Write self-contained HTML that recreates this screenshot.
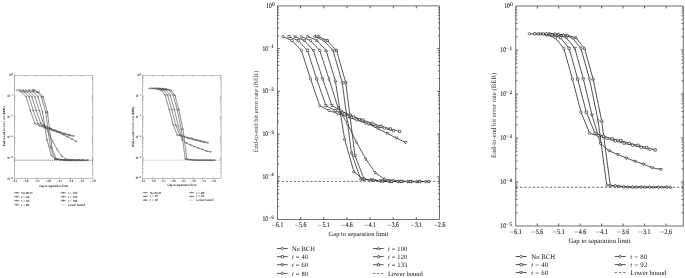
<!DOCTYPE html>
<html><head><meta charset="utf-8"><style>
html,body{margin:0;padding:0;background:#fff;}
svg{display:block;will-change:transform;}
</style></head><body>
<svg width="685" height="278" viewBox="0 0 685 278" font-family='"Liberation Serif", serif' text-rendering="geometricPrecision">
<defs><filter id="bl" x="-5%" y="-5%" width="110%" height="110%"><feGaussianBlur stdDeviation="0.35"/></filter></defs>
<rect width="685" height="278" fill="#fff"/>
<g filter="url(#bl)" stroke="#333" stroke-width="0.2"><g transform="matrix(0.4845 0 0 0.4845 -120.05 72.34)"><path d="M277.5 35.76h1.5M439.5 35.76h-1.5M277.5 28.24h1.5M439.5 28.24h-1.5M277.5 22.9h1.5M439.5 22.9h-1.5M277.5 18.76h1.5M439.5 18.76h-1.5M277.5 15.38h1.5M439.5 15.38h-1.5M277.5 12.52h1.5M439.5 12.52h-1.5M277.5 10.04h1.5M439.5 10.04h-1.5M277.5 7.85h1.5M439.5 7.85h-1.5M277.5 78.48h1.5M439.5 78.48h-1.5M277.5 70.96h1.5M439.5 70.96h-1.5M277.5 65.62h1.5M439.5 65.62h-1.5M277.5 61.48h1.5M439.5 61.48h-1.5M277.5 58.1h1.5M439.5 58.1h-1.5M277.5 55.24h1.5M439.5 55.24h-1.5M277.5 52.76h1.5M439.5 52.76h-1.5M277.5 50.57h1.5M439.5 50.57h-1.5M277.5 121.2h1.5M439.5 121.2h-1.5M277.5 113.68h1.5M439.5 113.68h-1.5M277.5 108.34h1.5M439.5 108.34h-1.5M277.5 104.2h1.5M439.5 104.2h-1.5M277.5 100.82h1.5M439.5 100.82h-1.5M277.5 97.96h1.5M439.5 97.96h-1.5M277.5 95.48h1.5M439.5 95.48h-1.5M277.5 93.29h1.5M439.5 93.29h-1.5M277.5 163.92h1.5M439.5 163.92h-1.5M277.5 156.4h1.5M439.5 156.4h-1.5M277.5 151.06h1.5M439.5 151.06h-1.5M277.5 146.92h1.5M439.5 146.92h-1.5M277.5 143.54h1.5M439.5 143.54h-1.5M277.5 140.68h1.5M439.5 140.68h-1.5M277.5 138.2h1.5M439.5 138.2h-1.5M277.5 136.01h1.5M439.5 136.01h-1.5M277.5 206.64h1.5M439.5 206.64h-1.5M277.5 199.12h1.5M439.5 199.12h-1.5M277.5 193.78h1.5M439.5 193.78h-1.5M277.5 189.64h1.5M439.5 189.64h-1.5M277.5 186.26h1.5M439.5 186.26h-1.5M277.5 183.4h1.5M439.5 183.4h-1.5M277.5 180.92h1.5M439.5 180.92h-1.5M277.5 178.73h1.5M439.5 178.73h-1.5M277.5 48.62h2.4M439.5 48.62h-2.4M277.5 91.34h2.4M439.5 91.34h-2.4M277.5 134.06h2.4M439.5 134.06h-2.4M277.5 176.78h2.4M439.5 176.78h-2.4M300.64 219.5v-2.4M300.64 5.9v2.4M323.79 219.5v-2.4M323.79 5.9v2.4M346.93 219.5v-2.4M346.93 5.9v2.4M370.07 219.5v-2.4M370.07 5.9v2.4M393.21 219.5v-2.4M393.21 5.9v2.4M416.36 219.5v-2.4M416.36 5.9v2.4" stroke="#222" stroke-width="0.7" fill="none"/>
<rect x="277.5" y="5.9" width="162" height="213.6" fill="none" stroke="#555" stroke-width="0.75"/>
<path d="M277.5 181.4H439.5" stroke="#222" stroke-width="1.2" stroke-dasharray="2.3 1.8" fill="none"/>
<path d="M282.9 36.7 L292.12 40.6 L301.34 50.3 L310.56 78.9 L319.78 105.8 L329 110.5 L338.22 113.8 L347.44 117 L356.66 120 L365.88 123.2 L375.1 126.1 L384.32 128.3 L393.54 130.8" stroke="#222" stroke-width="1.05" fill="none"/>
<path d="M289 36.7 L298.22 40.6 L307.44 50.3 L316.66 78.9 L325.88 105.6 L335.1 110.5 L344.32 113.8 L353.54 117 L362.76 120 L371.98 123.2 L381.2 126.1 L390.42 128.9 L399.64 131.4" stroke="#222" stroke-width="1.05" fill="none"/>
<path d="M295 36.7 L304.22 40.6 L313.44 50.4 L322.66 78.9 L331.88 105.6 L341.1 111 L350.32 115 L359.54 119.5 L368.76 124 L377.98 128.6 L387.2 133.3 L396.42 138 L405.64 142.5" stroke="#222" stroke-width="1.05" fill="none"/>
<path d="M301.3 36.7 L310.52 40.6 L319.74 50.4 L328.96 78.9 L338.18 108 L347.4 123.5 L356.62 142.5 L365.84 159 L375.06 172.6 L384.28 179 L393.5 180.5 L402.72 181.3 L411.94 181.5" stroke="#222" stroke-width="1.05" fill="none"/>
<path d="M307.7 36.4 L316.92 40.5 L326.14 50.5 L335.36 81 L344.58 139 L353.8 171.5 L363.02 179.16 L372.24 180.02 L381.46 180.93 L390.68 181.5 L399.9 181.52 L409.12 181.54 L418.34 181.56" stroke="#222" stroke-width="1.05" fill="none"/>
<path d="M314.6 36.4 L323.82 40.6 L333.04 50.5 L342.26 82.6 L351.48 153.1 L360.7 178.99 L369.92 179.79 L379.14 180.71 L388.36 181.39 L397.58 181.52 L406.8 181.53 L416.02 181.55 L425.24 181.57" stroke="#222" stroke-width="1.05" fill="none"/>
<path d="M318.1 36.4 L327.32 40.6 L336.54 50.5 L345.76 82.6 L354.98 155.7 L364.2 179.24 L373.42 180.14 L382.64 181.01 L391.86 181.5 L401.08 181.52 L410.3 181.54 L419.52 181.56 L428.74 181.58" stroke="#222" stroke-width="1.05" fill="none"/>
<circle cx="282.9" cy="36.7" r="1.2" fill="#fff" stroke="#222" stroke-width="0.8370000000000001"/>
<circle cx="292.12" cy="40.6" r="1.2" fill="#fff" stroke="#222" stroke-width="0.8370000000000001"/>
<circle cx="301.34" cy="50.3" r="1.2" fill="#fff" stroke="#222" stroke-width="0.8370000000000001"/>
<circle cx="310.56" cy="78.9" r="1.2" fill="#fff" stroke="#222" stroke-width="0.8370000000000001"/>
<circle cx="319.78" cy="105.8" r="1.2" fill="#fff" stroke="#222" stroke-width="0.8370000000000001"/>
<circle cx="329" cy="110.5" r="1.2" fill="#fff" stroke="#222" stroke-width="0.8370000000000001"/>
<circle cx="338.22" cy="113.8" r="1.2" fill="#fff" stroke="#222" stroke-width="0.8370000000000001"/>
<circle cx="347.44" cy="117" r="1.2" fill="#fff" stroke="#222" stroke-width="0.8370000000000001"/>
<circle cx="356.66" cy="120" r="1.2" fill="#fff" stroke="#222" stroke-width="0.8370000000000001"/>
<circle cx="365.88" cy="123.2" r="1.2" fill="#fff" stroke="#222" stroke-width="0.8370000000000001"/>
<circle cx="375.1" cy="126.1" r="1.2" fill="#fff" stroke="#222" stroke-width="0.8370000000000001"/>
<circle cx="384.32" cy="128.3" r="1.2" fill="#fff" stroke="#222" stroke-width="0.8370000000000001"/>
<circle cx="393.54" cy="130.8" r="1.2" fill="#fff" stroke="#222" stroke-width="0.8370000000000001"/>
<polygon points="287.86,35.56 290.14,35.56 290.14,37.84 287.86,37.84" fill="#fff" stroke="#222" stroke-width="0.8370000000000001"/>
<polygon points="297.08,39.46 299.36,39.46 299.36,41.74 297.08,41.74" fill="#fff" stroke="#222" stroke-width="0.8370000000000001"/>
<polygon points="306.3,49.16 308.58,49.16 308.58,51.44 306.3,51.44" fill="#fff" stroke="#222" stroke-width="0.8370000000000001"/>
<polygon points="315.52,77.76 317.8,77.76 317.8,80.04 315.52,80.04" fill="#fff" stroke="#222" stroke-width="0.8370000000000001"/>
<polygon points="324.74,104.46 327.02,104.46 327.02,106.74 324.74,106.74" fill="#fff" stroke="#222" stroke-width="0.8370000000000001"/>
<polygon points="333.96,109.36 336.24,109.36 336.24,111.64 333.96,111.64" fill="#fff" stroke="#222" stroke-width="0.8370000000000001"/>
<polygon points="343.18,112.66 345.46,112.66 345.46,114.94 343.18,114.94" fill="#fff" stroke="#222" stroke-width="0.8370000000000001"/>
<polygon points="352.4,115.86 354.68,115.86 354.68,118.14 352.4,118.14" fill="#fff" stroke="#222" stroke-width="0.8370000000000001"/>
<polygon points="361.62,118.86 363.9,118.86 363.9,121.14 361.62,121.14" fill="#fff" stroke="#222" stroke-width="0.8370000000000001"/>
<polygon points="370.84,122.06 373.12,122.06 373.12,124.34 370.84,124.34" fill="#fff" stroke="#222" stroke-width="0.8370000000000001"/>
<polygon points="380.06,124.96 382.34,124.96 382.34,127.24 380.06,127.24" fill="#fff" stroke="#222" stroke-width="0.8370000000000001"/>
<polygon points="389.28,127.76 391.56,127.76 391.56,130.04 389.28,130.04" fill="#fff" stroke="#222" stroke-width="0.8370000000000001"/>
<polygon points="398.5,130.26 400.78,130.26 400.78,132.54 398.5,132.54" fill="#fff" stroke="#222" stroke-width="0.8370000000000001"/>
<polygon points="293.5,35.8 296.5,35.8 295,38.12" fill="#fff" stroke="#222" stroke-width="0.8370000000000001"/>
<polygon points="302.72,39.7 305.72,39.7 304.22,42.02" fill="#fff" stroke="#222" stroke-width="0.8370000000000001"/>
<polygon points="311.94,49.5 314.94,49.5 313.44,51.82" fill="#fff" stroke="#222" stroke-width="0.8370000000000001"/>
<polygon points="321.16,78 324.16,78 322.66,80.33" fill="#fff" stroke="#222" stroke-width="0.8370000000000001"/>
<polygon points="330.38,104.7 333.38,104.7 331.88,107.02" fill="#fff" stroke="#222" stroke-width="0.8370000000000001"/>
<polygon points="339.6,110.1 342.6,110.1 341.1,112.42" fill="#fff" stroke="#222" stroke-width="0.8370000000000001"/>
<polygon points="348.82,114.1 351.82,114.1 350.32,116.42" fill="#fff" stroke="#222" stroke-width="0.8370000000000001"/>
<polygon points="358.04,118.6 361.04,118.6 359.54,120.92" fill="#fff" stroke="#222" stroke-width="0.8370000000000001"/>
<polygon points="367.26,123.1 370.26,123.1 368.76,125.42" fill="#fff" stroke="#222" stroke-width="0.8370000000000001"/>
<polygon points="376.48,127.7 379.48,127.7 377.98,130.03" fill="#fff" stroke="#222" stroke-width="0.8370000000000001"/>
<polygon points="385.7,132.4 388.7,132.4 387.2,134.73" fill="#fff" stroke="#222" stroke-width="0.8370000000000001"/>
<polygon points="394.92,137.1 397.92,137.1 396.42,139.43" fill="#fff" stroke="#222" stroke-width="0.8370000000000001"/>
<polygon points="404.14,141.6 407.14,141.6 405.64,143.93" fill="#fff" stroke="#222" stroke-width="0.8370000000000001"/>
<polygon points="301.3,35.08 302.35,36.7 301.3,38.32 300.25,36.7" fill="#fff" stroke="#222" stroke-width="0.8370000000000001"/>
<polygon points="310.52,38.98 311.57,40.6 310.52,42.22 309.47,40.6" fill="#fff" stroke="#222" stroke-width="0.8370000000000001"/>
<polygon points="319.74,48.78 320.79,50.4 319.74,52.02 318.69,50.4" fill="#fff" stroke="#222" stroke-width="0.8370000000000001"/>
<polygon points="328.96,77.28 330.01,78.9 328.96,80.52 327.91,78.9" fill="#fff" stroke="#222" stroke-width="0.8370000000000001"/>
<polygon points="338.18,106.38 339.23,108 338.18,109.62 337.13,108" fill="#fff" stroke="#222" stroke-width="0.8370000000000001"/>
<polygon points="347.4,121.88 348.45,123.5 347.4,125.12 346.35,123.5" fill="#fff" stroke="#222" stroke-width="0.8370000000000001"/>
<polygon points="356.62,140.88 357.67,142.5 356.62,144.12 355.57,142.5" fill="#fff" stroke="#222" stroke-width="0.8370000000000001"/>
<polygon points="365.84,157.38 366.89,159 365.84,160.62 364.79,159" fill="#fff" stroke="#222" stroke-width="0.8370000000000001"/>
<polygon points="375.06,170.98 376.11,172.6 375.06,174.22 374.01,172.6" fill="#fff" stroke="#222" stroke-width="0.8370000000000001"/>
<polygon points="384.28,177.38 385.33,179 384.28,180.62 383.23,179" fill="#fff" stroke="#222" stroke-width="0.8370000000000001"/>
<polygon points="393.5,178.88 394.55,180.5 393.5,182.12 392.45,180.5" fill="#fff" stroke="#222" stroke-width="0.8370000000000001"/>
<polygon points="402.72,179.68 403.77,181.3 402.72,182.92 401.67,181.3" fill="#fff" stroke="#222" stroke-width="0.8370000000000001"/>
<polygon points="411.94,179.88 412.99,181.5 411.94,183.12 410.89,181.5" fill="#fff" stroke="#222" stroke-width="0.8370000000000001"/>
<polygon points="306.2,37.3 309.2,37.3 307.7,34.98" fill="#fff" stroke="#222" stroke-width="0.8370000000000001"/>
<polygon points="315.42,41.4 318.42,41.4 316.92,39.08" fill="#fff" stroke="#222" stroke-width="0.8370000000000001"/>
<polygon points="324.64,51.4 327.64,51.4 326.14,49.08" fill="#fff" stroke="#222" stroke-width="0.8370000000000001"/>
<polygon points="333.86,81.9 336.86,81.9 335.36,79.58" fill="#fff" stroke="#222" stroke-width="0.8370000000000001"/>
<polygon points="343.08,139.9 346.08,139.9 344.58,137.57" fill="#fff" stroke="#222" stroke-width="0.8370000000000001"/>
<polygon points="352.3,172.4 355.3,172.4 353.8,170.07" fill="#fff" stroke="#222" stroke-width="0.8370000000000001"/>
<polygon points="361.52,180.06 364.52,180.06 363.02,177.73" fill="#fff" stroke="#222" stroke-width="0.8370000000000001"/>
<polygon points="370.74,180.92 373.74,180.92 372.24,178.6" fill="#fff" stroke="#222" stroke-width="0.8370000000000001"/>
<polygon points="379.96,181.83 382.96,181.83 381.46,179.51" fill="#fff" stroke="#222" stroke-width="0.8370000000000001"/>
<polygon points="389.18,182.4 392.18,182.4 390.68,180.08" fill="#fff" stroke="#222" stroke-width="0.8370000000000001"/>
<polygon points="398.4,182.42 401.4,182.42 399.9,180.09" fill="#fff" stroke="#222" stroke-width="0.8370000000000001"/>
<polygon points="407.62,182.44 410.62,182.44 409.12,180.11" fill="#fff" stroke="#222" stroke-width="0.8370000000000001"/>
<polygon points="416.84,182.46 419.84,182.46 418.34,180.13" fill="#fff" stroke="#222" stroke-width="0.8370000000000001"/>
<polygon points="315.5,34.9 315.5,37.9 313.18,36.4" fill="#fff" stroke="#222" stroke-width="0.8370000000000001"/>
<polygon points="324.72,39.1 324.72,42.1 322.4,40.6" fill="#fff" stroke="#222" stroke-width="0.8370000000000001"/>
<polygon points="333.94,49 333.94,52 331.62,50.5" fill="#fff" stroke="#222" stroke-width="0.8370000000000001"/>
<polygon points="343.16,81.1 343.16,84.1 340.84,82.6" fill="#fff" stroke="#222" stroke-width="0.8370000000000001"/>
<polygon points="352.38,151.6 352.38,154.6 350.06,153.1" fill="#fff" stroke="#222" stroke-width="0.8370000000000001"/>
<polygon points="361.6,177.49 361.6,180.49 359.28,178.99" fill="#fff" stroke="#222" stroke-width="0.8370000000000001"/>
<polygon points="370.82,178.29 370.82,181.29 368.5,179.79" fill="#fff" stroke="#222" stroke-width="0.8370000000000001"/>
<polygon points="380.04,179.21 380.04,182.21 377.72,180.71" fill="#fff" stroke="#222" stroke-width="0.8370000000000001"/>
<polygon points="389.26,179.89 389.26,182.89 386.94,181.39" fill="#fff" stroke="#222" stroke-width="0.8370000000000001"/>
<polygon points="398.48,180.02 398.48,183.02 396.16,181.52" fill="#fff" stroke="#222" stroke-width="0.8370000000000001"/>
<polygon points="407.7,180.03 407.7,183.03 405.38,181.53" fill="#fff" stroke="#222" stroke-width="0.8370000000000001"/>
<polygon points="416.92,180.05 416.92,183.05 414.6,181.55" fill="#fff" stroke="#222" stroke-width="0.8370000000000001"/>
<polygon points="426.14,180.07 426.14,183.07 423.81,181.57" fill="#fff" stroke="#222" stroke-width="0.8370000000000001"/>
<polygon points="318.1,34.66 318.56,35.77 319.75,35.86 318.84,36.64 319.12,37.81 318.1,37.18 317.08,37.81 317.36,36.64 316.45,35.86 317.64,35.77" fill="#fff" stroke="#222" stroke-width="0.8370000000000001"/>
<polygon points="327.32,38.86 327.78,39.97 328.97,40.06 328.06,40.84 328.34,42.01 327.32,41.38 326.3,42.01 326.58,40.84 325.67,40.06 326.86,39.97" fill="#fff" stroke="#222" stroke-width="0.8370000000000001"/>
<polygon points="336.54,48.76 337,49.87 338.19,49.96 337.28,50.74 337.56,51.91 336.54,51.28 335.52,51.91 335.8,50.74 334.89,49.96 336.08,49.87" fill="#fff" stroke="#222" stroke-width="0.8370000000000001"/>
<polygon points="345.76,80.86 346.22,81.97 347.41,82.06 346.5,82.84 346.78,84.01 345.76,83.38 344.74,84.01 345.02,82.84 344.11,82.06 345.3,81.97" fill="#fff" stroke="#222" stroke-width="0.8370000000000001"/>
<polygon points="354.98,153.96 355.44,155.07 356.63,155.16 355.72,155.94 356,157.11 354.98,156.48 353.96,157.11 354.24,155.94 353.33,155.16 354.52,155.07" fill="#fff" stroke="#222" stroke-width="0.8370000000000001"/>
<polygon points="364.2,177.5 364.66,178.61 365.85,178.71 364.94,179.48 365.22,180.65 364.2,180.03 363.18,180.65 363.46,179.48 362.55,178.71 363.74,178.61" fill="#fff" stroke="#222" stroke-width="0.8370000000000001"/>
<polygon points="373.42,178.4 373.88,179.51 375.07,179.6 374.16,180.38 374.44,181.55 373.42,180.92 372.4,181.55 372.68,180.38 371.77,179.6 372.96,179.51" fill="#fff" stroke="#222" stroke-width="0.8370000000000001"/>
<polygon points="382.64,179.27 383.1,180.38 384.29,180.47 383.38,181.25 383.66,182.42 382.64,181.79 381.62,182.42 381.9,181.25 380.99,180.47 382.18,180.38" fill="#fff" stroke="#222" stroke-width="0.8370000000000001"/>
<polygon points="391.86,179.76 392.32,180.87 393.51,180.97 392.6,181.75 392.88,182.91 391.86,182.29 390.84,182.91 391.12,181.75 390.21,180.97 391.4,180.87" fill="#fff" stroke="#222" stroke-width="0.8370000000000001"/>
<polygon points="401.08,179.78 401.54,180.89 402.73,180.98 401.82,181.76 402.1,182.93 401.08,182.31 400.06,182.93 400.34,181.76 399.43,180.98 400.62,180.89" fill="#fff" stroke="#222" stroke-width="0.8370000000000001"/>
<polygon points="410.3,179.8 410.76,180.91 411.95,181 411.04,181.78 411.32,182.95 410.3,182.32 409.28,182.95 409.56,181.78 408.65,181 409.84,180.91" fill="#fff" stroke="#222" stroke-width="0.8370000000000001"/>
<polygon points="419.52,179.82 419.98,180.93 421.17,181.02 420.26,181.8 420.54,182.97 419.52,182.34 418.5,182.97 418.78,181.8 417.87,181.02 419.06,180.93" fill="#fff" stroke="#222" stroke-width="0.8370000000000001"/>
<polygon points="428.74,179.84 429.2,180.94 430.39,181.04 429.48,181.82 429.76,182.99 428.74,182.36 427.72,182.99 428,181.82 427.09,181.04 428.28,180.94" fill="#fff" stroke="#222" stroke-width="0.8370000000000001"/>
<g font-size="7" fill="#333" stroke="#333" stroke-width="0.2"><path d="M271.7 225.35h3.9" stroke="#555" stroke-width="0.45"/><text x="276.1" y="227.1" textLength="7.2" lengthAdjust="spacingAndGlyphs">6.1</text><path d="M294.84 225.35h3.9" stroke="#555" stroke-width="0.45"/><text x="299.24" y="227.1" textLength="7.2" lengthAdjust="spacingAndGlyphs">5.6</text><path d="M317.99 225.35h3.9" stroke="#555" stroke-width="0.45"/><text x="322.39" y="227.1" textLength="7.2" lengthAdjust="spacingAndGlyphs">5.1</text><path d="M341.13 225.35h3.9" stroke="#555" stroke-width="0.45"/><text x="345.53" y="227.1" textLength="7.2" lengthAdjust="spacingAndGlyphs">4.6</text><path d="M364.27 225.35h3.9" stroke="#555" stroke-width="0.45"/><text x="368.67" y="227.1" textLength="7.2" lengthAdjust="spacingAndGlyphs">4.1</text><path d="M387.41 225.35h3.9" stroke="#555" stroke-width="0.45"/><text x="391.81" y="227.1" textLength="7.2" lengthAdjust="spacingAndGlyphs">3.6</text><path d="M410.56 225.35h3.9" stroke="#555" stroke-width="0.45"/><text x="414.96" y="227.1" textLength="7.2" lengthAdjust="spacingAndGlyphs">3.1</text><path d="M433.7 225.35h3.9" stroke="#555" stroke-width="0.45"/><text x="438.1" y="227.1" textLength="7.2" lengthAdjust="spacingAndGlyphs">2.6</text><text x="271.8" y="7.9" text-anchor="end" textLength="5.6" lengthAdjust="spacingAndGlyphs">10</text><text x="271.9" y="5.5" font-size="5.46">0</text><text x="268.1" y="50.52" text-anchor="end" textLength="5.6" lengthAdjust="spacingAndGlyphs">10</text><path d="M268.3 46.87h2.8" stroke="#555" stroke-width="0.4"/><text x="271.3" y="48.32" font-size="5.04">1</text><text x="268.1" y="93.24" text-anchor="end" textLength="5.6" lengthAdjust="spacingAndGlyphs">10</text><path d="M268.3 89.59h2.8" stroke="#555" stroke-width="0.4"/><text x="271.3" y="91.04" font-size="5.04">2</text><text x="268.1" y="135.96" text-anchor="end" textLength="5.6" lengthAdjust="spacingAndGlyphs">10</text><path d="M268.3 132.31h2.8" stroke="#555" stroke-width="0.4"/><text x="271.3" y="133.76" font-size="5.04">3</text><text x="268.1" y="178.68" text-anchor="end" textLength="5.6" lengthAdjust="spacingAndGlyphs">10</text><path d="M268.3 175.03h2.8" stroke="#555" stroke-width="0.4"/><text x="271.3" y="176.48" font-size="5.04">4</text><text x="268.1" y="221.4" text-anchor="end" textLength="5.6" lengthAdjust="spacingAndGlyphs">10</text><path d="M268.3 217.75h2.8" stroke="#555" stroke-width="0.4"/><text x="271.3" y="219.2" font-size="5.04">5</text></g>
<text x="358.5" y="235.7" text-anchor="middle" font-size="6.5" fill="#333">Gap to separation limit</text>
<text transform="translate(258.3 111.6) rotate(-90)" text-anchor="middle" font-size="6.5" fill="#555" stroke="#333" stroke-width="0.15">End-to-end bit error rate (BER)</text>
<path d="M277 248.5h10.7" stroke="#222" stroke-width="1.05" fill="none"/>
<circle cx="282.35" cy="248.5" r="1.2" fill="#fff" stroke="#222" stroke-width="0.81"/>
<text x="291.9" y="250.65" font-size="6.5" fill="#333">No BCH</text>
<path d="M277 256.6h10.7" stroke="#222" stroke-width="1.05" fill="none"/>
<polygon points="281.21,255.46 283.49,255.46 283.49,257.74 281.21,257.74" fill="#fff" stroke="#222" stroke-width="0.81"/>
<text x="291.9" y="258.75" font-size="6.5" fill="#333" textLength="16.4" lengthAdjust="spacing"><tspan font-style="italic">t</tspan> = 40</text>
<path d="M277 264.7h10.7" stroke="#222" stroke-width="1.05" fill="none"/>
<polygon points="280.85,263.8 283.85,263.8 282.35,266.12" fill="#fff" stroke="#222" stroke-width="0.81"/>
<text x="291.9" y="266.84" font-size="6.5" fill="#333" textLength="16.4" lengthAdjust="spacing"><tspan font-style="italic">t</tspan> = 60</text>
<path d="M277 273.4h10.7" stroke="#222" stroke-width="1.05" fill="none"/>
<polygon points="282.35,271.78 283.4,273.4 282.35,275.02 281.3,273.4" fill="#fff" stroke="#222" stroke-width="0.81"/>
<text x="291.9" y="275.54" font-size="6.5" fill="#333" textLength="16.4" lengthAdjust="spacing"><tspan font-style="italic">t</tspan> = 80</text>
<path d="M373 248.5h10.7" stroke="#222" stroke-width="1.05" fill="none"/>
<polygon points="376.85,249.4 379.85,249.4 378.35,247.07" fill="#fff" stroke="#222" stroke-width="0.81"/>
<text x="387.9" y="250.65" font-size="6.5" fill="#333" textLength="19.4" lengthAdjust="spacing"><tspan font-style="italic">t</tspan> = 100</text>
<path d="M373 256.6h10.7" stroke="#222" stroke-width="1.05" fill="none"/>
<polygon points="379.25,255.1 379.25,258.1 376.93,256.6" fill="#fff" stroke="#222" stroke-width="0.81"/>
<text x="387.9" y="258.75" font-size="6.5" fill="#333" textLength="19.4" lengthAdjust="spacing"><tspan font-style="italic">t</tspan> = 120</text>
<path d="M373 264.7h10.7" stroke="#222" stroke-width="1.05" fill="none"/>
<polygon points="378.35,262.96 378.81,264.07 380,264.16 379.09,264.94 379.37,266.11 378.35,265.48 377.33,266.11 377.61,264.94 376.7,264.16 377.89,264.07" fill="#fff" stroke="#222" stroke-width="0.81"/>
<text x="387.9" y="266.84" font-size="6.5" fill="#333" textLength="19.4" lengthAdjust="spacing"><tspan font-style="italic">t</tspan> = 133</text>
<path d="M373 273.4h10.7" stroke="#444" stroke-width="0.75" stroke-dasharray="2.3 1.8" fill="none"/>
<text x="387.9" y="275.54" font-size="6.5" fill="#333">Lower bound</text></g></g>
<g filter="url(#bl)" stroke="#333" stroke-width="0.2"><g transform="matrix(0.468 0 0 0.468 -98.69 72.59)"><path d="M515.8 36.75h1.55M683.2 36.75h-1.55M515.8 29.01h1.55M683.2 29.01h-1.55M515.8 23.51h1.55M683.2 23.51h-1.55M515.8 19.25h1.55M683.2 19.25h-1.55M515.8 15.76h1.55M683.2 15.76h-1.55M515.8 12.82h1.55M683.2 12.82h-1.55M515.8 10.26h1.55M683.2 10.26h-1.55M515.8 8.01h1.55M683.2 8.01h-1.55M515.8 80.75h1.55M683.2 80.75h-1.55M515.8 73.01h1.55M683.2 73.01h-1.55M515.8 67.51h1.55M683.2 67.51h-1.55M515.8 63.25h1.55M683.2 63.25h-1.55M515.8 59.76h1.55M683.2 59.76h-1.55M515.8 56.82h1.55M683.2 56.82h-1.55M515.8 54.26h1.55M683.2 54.26h-1.55M515.8 52.01h1.55M683.2 52.01h-1.55M515.8 124.75h1.55M683.2 124.75h-1.55M515.8 117.01h1.55M683.2 117.01h-1.55M515.8 111.51h1.55M683.2 111.51h-1.55M515.8 107.25h1.55M683.2 107.25h-1.55M515.8 103.76h1.55M683.2 103.76h-1.55M515.8 100.82h1.55M683.2 100.82h-1.55M515.8 98.26h1.55M683.2 98.26h-1.55M515.8 96.01h1.55M683.2 96.01h-1.55M515.8 168.75h1.55M683.2 168.75h-1.55M515.8 161.01h1.55M683.2 161.01h-1.55M515.8 155.51h1.55M683.2 155.51h-1.55M515.8 151.25h1.55M683.2 151.25h-1.55M515.8 147.76h1.55M683.2 147.76h-1.55M515.8 144.82h1.55M683.2 144.82h-1.55M515.8 142.26h1.55M683.2 142.26h-1.55M515.8 140.01h1.55M683.2 140.01h-1.55M515.8 212.75h1.55M683.2 212.75h-1.55M515.8 205.01h1.55M683.2 205.01h-1.55M515.8 199.51h1.55M683.2 199.51h-1.55M515.8 195.25h1.55M683.2 195.25h-1.55M515.8 191.76h1.55M683.2 191.76h-1.55M515.8 188.82h1.55M683.2 188.82h-1.55M515.8 186.26h1.55M683.2 186.26h-1.55M515.8 184.01h1.55M683.2 184.01h-1.55M515.8 50h2.48M683.2 50h-2.48M515.8 94h2.48M683.2 94h-2.48M515.8 138h2.48M683.2 138h-2.48M515.8 182h2.48M683.2 182h-2.48M537.26 226v-2.48M537.26 6v2.48M558.72 226v-2.48M558.72 6v2.48M580.18 226v-2.48M580.18 6v2.48M601.65 226v-2.48M601.65 6v2.48M623.11 226v-2.48M623.11 6v2.48M644.57 226v-2.48M644.57 6v2.48M666.03 226v-2.48M666.03 6v2.48" stroke="#222" stroke-width="0.72" fill="none"/>
<rect x="515.8" y="6" width="167.4" height="220" fill="none" stroke="#555" stroke-width="0.78"/>
<path d="M515.8 187.3H683.2" stroke="#777" stroke-width="0.93" stroke-dasharray="2.38 1.86" fill="none"/>
<path d="M529.4 33.8 L538 34 L546.6 35 L555.2 37.7 L563.8 48.3 L572.4 79 L581 112.1 L589.6 133.3 L598.2 135.8 L606.8 138.5 L615.4 141 L624 143.3 L632.6 145.3 L641.2 147.4 L649.8 149.4" stroke="#222" stroke-width="1.09" fill="none"/>
<path d="M534.7 33.8 L543.3 34 L551.9 35 L560.5 37.7 L569.1 48.3 L577.7 79 L586.3 112.1 L594.9 133.3 L603.5 136.2 L612.1 138.8 L620.7 140.5 L629.3 143.3 L637.9 145.3 L646.5 147.6 L655.1 149.9" stroke="#222" stroke-width="1.09" fill="none"/>
<path d="M540.4 33.8 L549 34 L557.6 35 L566.2 37.7 L574.8 48.3 L583.4 79 L592 115.1 L600.6 143.7 L609.2 150.8 L617.8 154.5 L626.4 158.1 L635 161.3 L643.6 164.2 L652.2 167.8 L660.8 169.4" stroke="#222" stroke-width="1.09" fill="none"/>
<path d="M546.5 33.8 L555.1 34.2 L563.7 35.2 L572.3 37.7 L580.9 48.3 L589.5 79 L598.1 120.9 L606.7 184.84 L615.3 185.74 L623.9 186.79 L632.5 187.1 L641.1 187.12 L649.7 187.13 L658.3 187.15 L666.9 187.16" stroke="#222" stroke-width="1.09" fill="none"/>
<path d="M550.1 33.8 L558.7 34.2 L567.3 35.2 L575.9 37.7 L584.5 48.3 L593.1 79 L601.7 120.9 L610.3 185.51 L618.9 186.19 L627.5 186.93 L636.1 187.11 L644.7 187.12 L653.3 187.14 L661.9 187.15 L670.5 187.17" stroke="#222" stroke-width="1.09" fill="none"/>
<circle cx="529.4" cy="33.8" r="1.24" fill="#fff" stroke="#222" stroke-width="0.8662949999999999"/>
<circle cx="538" cy="34" r="1.24" fill="#fff" stroke="#222" stroke-width="0.8662949999999999"/>
<circle cx="546.6" cy="35" r="1.24" fill="#fff" stroke="#222" stroke-width="0.8662949999999999"/>
<circle cx="555.2" cy="37.7" r="1.24" fill="#fff" stroke="#222" stroke-width="0.8662949999999999"/>
<circle cx="563.8" cy="48.3" r="1.24" fill="#fff" stroke="#222" stroke-width="0.8662949999999999"/>
<circle cx="572.4" cy="79" r="1.24" fill="#fff" stroke="#222" stroke-width="0.8662949999999999"/>
<circle cx="581" cy="112.1" r="1.24" fill="#fff" stroke="#222" stroke-width="0.8662949999999999"/>
<circle cx="589.6" cy="133.3" r="1.24" fill="#fff" stroke="#222" stroke-width="0.8662949999999999"/>
<circle cx="598.2" cy="135.8" r="1.24" fill="#fff" stroke="#222" stroke-width="0.8662949999999999"/>
<circle cx="606.8" cy="138.5" r="1.24" fill="#fff" stroke="#222" stroke-width="0.8662949999999999"/>
<circle cx="615.4" cy="141" r="1.24" fill="#fff" stroke="#222" stroke-width="0.8662949999999999"/>
<circle cx="624" cy="143.3" r="1.24" fill="#fff" stroke="#222" stroke-width="0.8662949999999999"/>
<circle cx="632.6" cy="145.3" r="1.24" fill="#fff" stroke="#222" stroke-width="0.8662949999999999"/>
<circle cx="641.2" cy="147.4" r="1.24" fill="#fff" stroke="#222" stroke-width="0.8662949999999999"/>
<circle cx="649.8" cy="149.4" r="1.24" fill="#fff" stroke="#222" stroke-width="0.8662949999999999"/>
<polygon points="533.52,32.62 535.88,32.62 535.88,34.98 533.52,34.98" fill="#fff" stroke="#222" stroke-width="0.8662949999999999"/>
<polygon points="542.12,32.82 544.48,32.82 544.48,35.18 542.12,35.18" fill="#fff" stroke="#222" stroke-width="0.8662949999999999"/>
<polygon points="550.72,33.82 553.08,33.82 553.08,36.18 550.72,36.18" fill="#fff" stroke="#222" stroke-width="0.8662949999999999"/>
<polygon points="559.32,36.52 561.68,36.52 561.68,38.88 559.32,38.88" fill="#fff" stroke="#222" stroke-width="0.8662949999999999"/>
<polygon points="567.92,47.12 570.28,47.12 570.28,49.48 567.92,49.48" fill="#fff" stroke="#222" stroke-width="0.8662949999999999"/>
<polygon points="576.52,77.82 578.88,77.82 578.88,80.18 576.52,80.18" fill="#fff" stroke="#222" stroke-width="0.8662949999999999"/>
<polygon points="585.12,110.92 587.48,110.92 587.48,113.28 585.12,113.28" fill="#fff" stroke="#222" stroke-width="0.8662949999999999"/>
<polygon points="593.72,132.12 596.08,132.12 596.08,134.48 593.72,134.48" fill="#fff" stroke="#222" stroke-width="0.8662949999999999"/>
<polygon points="602.32,135.02 604.68,135.02 604.68,137.38 602.32,137.38" fill="#fff" stroke="#222" stroke-width="0.8662949999999999"/>
<polygon points="610.92,137.62 613.28,137.62 613.28,139.98 610.92,139.98" fill="#fff" stroke="#222" stroke-width="0.8662949999999999"/>
<polygon points="619.52,139.32 621.88,139.32 621.88,141.68 619.52,141.68" fill="#fff" stroke="#222" stroke-width="0.8662949999999999"/>
<polygon points="628.12,142.12 630.48,142.12 630.48,144.48 628.12,144.48" fill="#fff" stroke="#222" stroke-width="0.8662949999999999"/>
<polygon points="636.72,144.12 639.08,144.12 639.08,146.48 636.72,146.48" fill="#fff" stroke="#222" stroke-width="0.8662949999999999"/>
<polygon points="645.32,146.42 647.68,146.42 647.68,148.78 645.32,148.78" fill="#fff" stroke="#222" stroke-width="0.8662949999999999"/>
<polygon points="653.92,148.72 656.28,148.72 656.28,151.08 653.92,151.08" fill="#fff" stroke="#222" stroke-width="0.8662949999999999"/>
<polygon points="538.85,32.87 541.95,32.87 540.4,35.27" fill="#fff" stroke="#222" stroke-width="0.8662949999999999"/>
<polygon points="547.45,33.07 550.55,33.07 549,35.47" fill="#fff" stroke="#222" stroke-width="0.8662949999999999"/>
<polygon points="556.05,34.07 559.15,34.07 557.6,36.47" fill="#fff" stroke="#222" stroke-width="0.8662949999999999"/>
<polygon points="564.65,36.77 567.75,36.77 566.2,39.17" fill="#fff" stroke="#222" stroke-width="0.8662949999999999"/>
<polygon points="573.25,47.37 576.35,47.37 574.8,49.77" fill="#fff" stroke="#222" stroke-width="0.8662949999999999"/>
<polygon points="581.85,78.07 584.95,78.07 583.4,80.47" fill="#fff" stroke="#222" stroke-width="0.8662949999999999"/>
<polygon points="590.45,114.17 593.55,114.17 592,116.57" fill="#fff" stroke="#222" stroke-width="0.8662949999999999"/>
<polygon points="599.05,142.77 602.15,142.77 600.6,145.17" fill="#fff" stroke="#222" stroke-width="0.8662949999999999"/>
<polygon points="607.65,149.87 610.75,149.87 609.2,152.27" fill="#fff" stroke="#222" stroke-width="0.8662949999999999"/>
<polygon points="616.25,153.57 619.35,153.57 617.8,155.97" fill="#fff" stroke="#222" stroke-width="0.8662949999999999"/>
<polygon points="624.85,157.17 627.95,157.17 626.4,159.57" fill="#fff" stroke="#222" stroke-width="0.8662949999999999"/>
<polygon points="633.45,160.37 636.55,160.37 635,162.77" fill="#fff" stroke="#222" stroke-width="0.8662949999999999"/>
<polygon points="642.05,163.27 645.15,163.27 643.6,165.67" fill="#fff" stroke="#222" stroke-width="0.8662949999999999"/>
<polygon points="650.65,166.87 653.75,166.87 652.2,169.27" fill="#fff" stroke="#222" stroke-width="0.8662949999999999"/>
<polygon points="659.25,168.47 662.35,168.47 660.8,170.87" fill="#fff" stroke="#222" stroke-width="0.8662949999999999"/>
<polygon points="546.5,32.12 547.59,33.8 546.5,35.48 545.41,33.8" fill="#fff" stroke="#222" stroke-width="0.8662949999999999"/>
<polygon points="555.1,32.52 556.19,34.2 555.1,35.88 554.01,34.2" fill="#fff" stroke="#222" stroke-width="0.8662949999999999"/>
<polygon points="563.7,33.52 564.79,35.2 563.7,36.88 562.61,35.2" fill="#fff" stroke="#222" stroke-width="0.8662949999999999"/>
<polygon points="572.3,36.02 573.39,37.7 572.3,39.38 571.21,37.7" fill="#fff" stroke="#222" stroke-width="0.8662949999999999"/>
<polygon points="580.9,46.62 581.99,48.3 580.9,49.98 579.81,48.3" fill="#fff" stroke="#222" stroke-width="0.8662949999999999"/>
<polygon points="589.5,77.32 590.59,79 589.5,80.68 588.41,79" fill="#fff" stroke="#222" stroke-width="0.8662949999999999"/>
<polygon points="598.1,119.22 599.19,120.9 598.1,122.58 597.01,120.9" fill="#fff" stroke="#222" stroke-width="0.8662949999999999"/>
<polygon points="606.7,183.16 607.79,184.84 606.7,186.52 605.61,184.84" fill="#fff" stroke="#222" stroke-width="0.8662949999999999"/>
<polygon points="615.3,184.06 616.39,185.74 615.3,187.41 614.21,185.74" fill="#fff" stroke="#222" stroke-width="0.8662949999999999"/>
<polygon points="623.9,185.11 624.99,186.79 623.9,188.46 622.81,186.79" fill="#fff" stroke="#222" stroke-width="0.8662949999999999"/>
<polygon points="632.5,185.42 633.59,187.1 632.5,188.78 631.41,187.1" fill="#fff" stroke="#222" stroke-width="0.8662949999999999"/>
<polygon points="641.1,185.44 642.19,187.12 641.1,188.79 640.01,187.12" fill="#fff" stroke="#222" stroke-width="0.8662949999999999"/>
<polygon points="649.7,185.45 650.79,187.13 649.7,188.81 648.61,187.13" fill="#fff" stroke="#222" stroke-width="0.8662949999999999"/>
<polygon points="658.3,185.47 659.39,187.15 658.3,188.82 657.21,187.15" fill="#fff" stroke="#222" stroke-width="0.8662949999999999"/>
<polygon points="666.9,185.48 667.99,187.16 666.9,188.84 665.81,187.16" fill="#fff" stroke="#222" stroke-width="0.8662949999999999"/>
<polygon points="548.55,34.73 551.65,34.73 550.1,32.33" fill="#fff" stroke="#222" stroke-width="0.8662949999999999"/>
<polygon points="557.15,35.13 560.25,35.13 558.7,32.73" fill="#fff" stroke="#222" stroke-width="0.8662949999999999"/>
<polygon points="565.75,36.13 568.85,36.13 567.3,33.73" fill="#fff" stroke="#222" stroke-width="0.8662949999999999"/>
<polygon points="574.35,38.63 577.45,38.63 575.9,36.23" fill="#fff" stroke="#222" stroke-width="0.8662949999999999"/>
<polygon points="582.95,49.23 586.05,49.23 584.5,46.83" fill="#fff" stroke="#222" stroke-width="0.8662949999999999"/>
<polygon points="591.55,79.93 594.65,79.93 593.1,77.53" fill="#fff" stroke="#222" stroke-width="0.8662949999999999"/>
<polygon points="600.15,121.83 603.25,121.83 601.7,119.43" fill="#fff" stroke="#222" stroke-width="0.8662949999999999"/>
<polygon points="608.75,186.44 611.85,186.44 610.3,184.04" fill="#fff" stroke="#222" stroke-width="0.8662949999999999"/>
<polygon points="617.35,187.12 620.45,187.12 618.9,184.71" fill="#fff" stroke="#222" stroke-width="0.8662949999999999"/>
<polygon points="625.95,187.86 629.05,187.86 627.5,185.46" fill="#fff" stroke="#222" stroke-width="0.8662949999999999"/>
<polygon points="634.55,188.04 637.65,188.04 636.1,185.63" fill="#fff" stroke="#222" stroke-width="0.8662949999999999"/>
<polygon points="643.15,188.05 646.25,188.05 644.7,185.65" fill="#fff" stroke="#222" stroke-width="0.8662949999999999"/>
<polygon points="651.75,188.07 654.85,188.07 653.3,185.66" fill="#fff" stroke="#222" stroke-width="0.8662949999999999"/>
<polygon points="660.35,188.08 663.45,188.08 661.9,185.68" fill="#fff" stroke="#222" stroke-width="0.8662949999999999"/>
<polygon points="668.95,188.1 672.05,188.1 670.5,185.69" fill="#fff" stroke="#222" stroke-width="0.8662949999999999"/>
<g font-size="7.25" fill="#333" stroke="#333" stroke-width="0.2"><path d="M509.8 231.99h4.04" stroke="#555" stroke-width="0.47"/><text x="514.35" y="233.8" textLength="7.45" lengthAdjust="spacingAndGlyphs">6.1</text><path d="M531.26 231.99h4.04" stroke="#555" stroke-width="0.47"/><text x="535.81" y="233.8" textLength="7.45" lengthAdjust="spacingAndGlyphs">5.6</text><path d="M552.72 231.99h4.04" stroke="#555" stroke-width="0.47"/><text x="557.27" y="233.8" textLength="7.45" lengthAdjust="spacingAndGlyphs">5.1</text><path d="M574.18 231.99h4.04" stroke="#555" stroke-width="0.47"/><text x="578.74" y="233.8" textLength="7.45" lengthAdjust="spacingAndGlyphs">4.6</text><path d="M595.64 231.99h4.04" stroke="#555" stroke-width="0.47"/><text x="600.2" y="233.8" textLength="7.45" lengthAdjust="spacingAndGlyphs">4.1</text><path d="M617.1 231.99h4.04" stroke="#555" stroke-width="0.47"/><text x="621.66" y="233.8" textLength="7.45" lengthAdjust="spacingAndGlyphs">3.6</text><path d="M638.57 231.99h4.04" stroke="#555" stroke-width="0.47"/><text x="643.12" y="233.8" textLength="7.45" lengthAdjust="spacingAndGlyphs">3.1</text><path d="M660.03 231.99h4.04" stroke="#555" stroke-width="0.47"/><text x="664.58" y="233.8" textLength="7.45" lengthAdjust="spacingAndGlyphs">2.6</text><text x="509.93" y="8.07" text-anchor="end" textLength="5.8" lengthAdjust="spacingAndGlyphs">10</text><text x="510.03" y="5.59" font-size="5.66">0</text><text x="506.1" y="51.97" text-anchor="end" textLength="5.8" lengthAdjust="spacingAndGlyphs">10</text><path d="M506.3 48.19h2.9" stroke="#555" stroke-width="0.41"/><text x="509.41" y="49.69" font-size="5.22">1</text><text x="506.1" y="95.97" text-anchor="end" textLength="5.8" lengthAdjust="spacingAndGlyphs">10</text><path d="M506.3 92.19h2.9" stroke="#555" stroke-width="0.41"/><text x="509.41" y="93.69" font-size="5.22">2</text><text x="506.1" y="139.97" text-anchor="end" textLength="5.8" lengthAdjust="spacingAndGlyphs">10</text><path d="M506.3 136.19h2.9" stroke="#555" stroke-width="0.41"/><text x="509.41" y="137.69" font-size="5.22">3</text><text x="506.1" y="183.97" text-anchor="end" textLength="5.8" lengthAdjust="spacingAndGlyphs">10</text><path d="M506.3 180.19h2.9" stroke="#555" stroke-width="0.41"/><text x="509.41" y="181.69" font-size="5.22">4</text><text x="506.1" y="227.97" text-anchor="end" textLength="5.8" lengthAdjust="spacingAndGlyphs">10</text><path d="M506.3 224.19h2.9" stroke="#555" stroke-width="0.41"/><text x="509.41" y="225.69" font-size="5.22">5</text></g>
<text x="599.5" y="242.9" text-anchor="middle" font-size="6.75" fill="#333">Gap to separation limit</text>
<text transform="translate(496.3 115.4) rotate(-90)" text-anchor="middle" font-size="6.75" fill="#555" stroke="#333" stroke-width="0.15">End-to-end bit error rate (BER)</text>
<path d="M515.7 256.5h11" stroke="#222" stroke-width="1.09" fill="none"/>
<circle cx="521.2" cy="256.5" r="1.24" fill="#fff" stroke="#222" stroke-width="0.8383499999999999"/>
<text x="531.3" y="258.73" font-size="6.75" fill="#333">No BCH</text>
<path d="M515.7 264.6h11" stroke="#222" stroke-width="1.09" fill="none"/>
<polygon points="520.02,263.42 522.38,263.42 522.38,265.78 520.02,265.78" fill="#fff" stroke="#222" stroke-width="0.8383499999999999"/>
<text x="531.3" y="266.83" font-size="6.75" fill="#333" textLength="16.97" lengthAdjust="spacing"><tspan font-style="italic">t</tspan> = 40</text>
<path d="M515.7 272.6h11" stroke="#222" stroke-width="1.09" fill="none"/>
<polygon points="519.65,271.67 522.75,271.67 521.2,274.07" fill="#fff" stroke="#222" stroke-width="0.8383499999999999"/>
<text x="531.3" y="274.83" font-size="6.75" fill="#333" textLength="16.97" lengthAdjust="spacing"><tspan font-style="italic">t</tspan> = 60</text>
<path d="M614.7 256.5h11" stroke="#222" stroke-width="1.09" fill="none"/>
<polygon points="620.2,254.82 621.29,256.5 620.2,258.18 619.11,256.5" fill="#fff" stroke="#222" stroke-width="0.8383499999999999"/>
<text x="630.3" y="258.73" font-size="6.75" fill="#333" textLength="16.97" lengthAdjust="spacing"><tspan font-style="italic">t</tspan> = 80</text>
<path d="M614.7 264.6h11" stroke="#222" stroke-width="1.09" fill="none"/>
<polygon points="618.65,265.53 621.75,265.53 620.2,263.13" fill="#fff" stroke="#222" stroke-width="0.8383499999999999"/>
<text x="630.3" y="266.83" font-size="6.75" fill="#333" textLength="16.97" lengthAdjust="spacing"><tspan font-style="italic">t</tspan> = 92</text>
<path d="M614.7 272.6h11" stroke="#444" stroke-width="0.78" stroke-dasharray="2.38 1.86" fill="none"/>
<text x="630.3" y="274.83" font-size="6.75" fill="#333">Lower bound</text></g></g>
<path d="M277.5 35.76h1.5M439.5 35.76h-1.5M277.5 28.24h1.5M439.5 28.24h-1.5M277.5 22.9h1.5M439.5 22.9h-1.5M277.5 18.76h1.5M439.5 18.76h-1.5M277.5 15.38h1.5M439.5 15.38h-1.5M277.5 12.52h1.5M439.5 12.52h-1.5M277.5 10.04h1.5M439.5 10.04h-1.5M277.5 7.85h1.5M439.5 7.85h-1.5M277.5 78.48h1.5M439.5 78.48h-1.5M277.5 70.96h1.5M439.5 70.96h-1.5M277.5 65.62h1.5M439.5 65.62h-1.5M277.5 61.48h1.5M439.5 61.48h-1.5M277.5 58.1h1.5M439.5 58.1h-1.5M277.5 55.24h1.5M439.5 55.24h-1.5M277.5 52.76h1.5M439.5 52.76h-1.5M277.5 50.57h1.5M439.5 50.57h-1.5M277.5 121.2h1.5M439.5 121.2h-1.5M277.5 113.68h1.5M439.5 113.68h-1.5M277.5 108.34h1.5M439.5 108.34h-1.5M277.5 104.2h1.5M439.5 104.2h-1.5M277.5 100.82h1.5M439.5 100.82h-1.5M277.5 97.96h1.5M439.5 97.96h-1.5M277.5 95.48h1.5M439.5 95.48h-1.5M277.5 93.29h1.5M439.5 93.29h-1.5M277.5 163.92h1.5M439.5 163.92h-1.5M277.5 156.4h1.5M439.5 156.4h-1.5M277.5 151.06h1.5M439.5 151.06h-1.5M277.5 146.92h1.5M439.5 146.92h-1.5M277.5 143.54h1.5M439.5 143.54h-1.5M277.5 140.68h1.5M439.5 140.68h-1.5M277.5 138.2h1.5M439.5 138.2h-1.5M277.5 136.01h1.5M439.5 136.01h-1.5M277.5 206.64h1.5M439.5 206.64h-1.5M277.5 199.12h1.5M439.5 199.12h-1.5M277.5 193.78h1.5M439.5 193.78h-1.5M277.5 189.64h1.5M439.5 189.64h-1.5M277.5 186.26h1.5M439.5 186.26h-1.5M277.5 183.4h1.5M439.5 183.4h-1.5M277.5 180.92h1.5M439.5 180.92h-1.5M277.5 178.73h1.5M439.5 178.73h-1.5M277.5 48.62h2.4M439.5 48.62h-2.4M277.5 91.34h2.4M439.5 91.34h-2.4M277.5 134.06h2.4M439.5 134.06h-2.4M277.5 176.78h2.4M439.5 176.78h-2.4M300.64 219.5v-2.4M300.64 5.9v2.4M323.79 219.5v-2.4M323.79 5.9v2.4M346.93 219.5v-2.4M346.93 5.9v2.4M370.07 219.5v-2.4M370.07 5.9v2.4M393.21 219.5v-2.4M393.21 5.9v2.4M416.36 219.5v-2.4M416.36 5.9v2.4" stroke="#222" stroke-width="0.7" fill="none"/>
<rect x="277.5" y="5.9" width="162" height="213.6" fill="none" stroke="#444" stroke-width="0.75"/>
<path d="M277.5 181.4H439.5" stroke="#444" stroke-width="0.75" stroke-dasharray="2.3 1.8" fill="none"/>
<path d="M282.9 36.7 L292.12 40.6 L301.34 50.3 L310.56 78.9 L319.78 105.8 L329 110.5 L338.22 113.8 L347.44 117 L356.66 120 L365.88 123.2 L375.1 126.1 L384.32 128.3 L393.54 130.8" stroke="#222" stroke-width="0.75" fill="none"/>
<path d="M289 36.7 L298.22 40.6 L307.44 50.3 L316.66 78.9 L325.88 105.6 L335.1 110.5 L344.32 113.8 L353.54 117 L362.76 120 L371.98 123.2 L381.2 126.1 L390.42 128.9 L399.64 131.4" stroke="#222" stroke-width="0.75" fill="none"/>
<path d="M295 36.7 L304.22 40.6 L313.44 50.4 L322.66 78.9 L331.88 105.6 L341.1 111 L350.32 115 L359.54 119.5 L368.76 124 L377.98 128.6 L387.2 133.3 L396.42 138 L405.64 142.5" stroke="#222" stroke-width="0.75" fill="none"/>
<path d="M301.3 36.7 L310.52 40.6 L319.74 50.4 L328.96 78.9 L338.18 108 L347.4 123.5 L356.62 142.5 L365.84 159 L375.06 172.6 L384.28 179 L393.5 180.5 L402.72 181.3 L411.94 181.5" stroke="#222" stroke-width="0.75" fill="none"/>
<path d="M307.7 36.4 L316.92 40.5 L326.14 50.5 L335.36 81 L344.58 139 L353.8 171.5 L363.02 179.16 L372.24 180.02 L381.46 180.93 L390.68 181.5 L399.9 181.52 L409.12 181.54 L418.34 181.56" stroke="#222" stroke-width="0.75" fill="none"/>
<path d="M314.6 36.4 L323.82 40.6 L333.04 50.5 L342.26 82.6 L351.48 153.1 L360.7 178.99 L369.92 179.79 L379.14 180.71 L388.36 181.39 L397.58 181.52 L406.8 181.53 L416.02 181.55 L425.24 181.57" stroke="#222" stroke-width="0.75" fill="none"/>
<path d="M318.1 36.4 L327.32 40.6 L336.54 50.5 L345.76 82.6 L354.98 155.7 L364.2 179.24 L373.42 180.14 L382.64 181.01 L391.86 181.5 L401.08 181.52 L410.3 181.54 L419.52 181.56 L428.74 181.58" stroke="#222" stroke-width="0.75" fill="none"/>
<circle cx="282.9" cy="36.7" r="1.2" fill="#fff" stroke="#222" stroke-width="0.62"/>
<circle cx="292.12" cy="40.6" r="1.2" fill="#fff" stroke="#222" stroke-width="0.62"/>
<circle cx="301.34" cy="50.3" r="1.2" fill="#fff" stroke="#222" stroke-width="0.62"/>
<circle cx="310.56" cy="78.9" r="1.2" fill="#fff" stroke="#222" stroke-width="0.62"/>
<circle cx="319.78" cy="105.8" r="1.2" fill="#fff" stroke="#222" stroke-width="0.62"/>
<circle cx="329" cy="110.5" r="1.2" fill="#fff" stroke="#222" stroke-width="0.62"/>
<circle cx="338.22" cy="113.8" r="1.2" fill="#fff" stroke="#222" stroke-width="0.62"/>
<circle cx="347.44" cy="117" r="1.2" fill="#fff" stroke="#222" stroke-width="0.62"/>
<circle cx="356.66" cy="120" r="1.2" fill="#fff" stroke="#222" stroke-width="0.62"/>
<circle cx="365.88" cy="123.2" r="1.2" fill="#fff" stroke="#222" stroke-width="0.62"/>
<circle cx="375.1" cy="126.1" r="1.2" fill="#fff" stroke="#222" stroke-width="0.62"/>
<circle cx="384.32" cy="128.3" r="1.2" fill="#fff" stroke="#222" stroke-width="0.62"/>
<circle cx="393.54" cy="130.8" r="1.2" fill="#fff" stroke="#222" stroke-width="0.62"/>
<polygon points="287.86,35.56 290.14,35.56 290.14,37.84 287.86,37.84" fill="#fff" stroke="#222" stroke-width="0.62"/>
<polygon points="297.08,39.46 299.36,39.46 299.36,41.74 297.08,41.74" fill="#fff" stroke="#222" stroke-width="0.62"/>
<polygon points="306.3,49.16 308.58,49.16 308.58,51.44 306.3,51.44" fill="#fff" stroke="#222" stroke-width="0.62"/>
<polygon points="315.52,77.76 317.8,77.76 317.8,80.04 315.52,80.04" fill="#fff" stroke="#222" stroke-width="0.62"/>
<polygon points="324.74,104.46 327.02,104.46 327.02,106.74 324.74,106.74" fill="#fff" stroke="#222" stroke-width="0.62"/>
<polygon points="333.96,109.36 336.24,109.36 336.24,111.64 333.96,111.64" fill="#fff" stroke="#222" stroke-width="0.62"/>
<polygon points="343.18,112.66 345.46,112.66 345.46,114.94 343.18,114.94" fill="#fff" stroke="#222" stroke-width="0.62"/>
<polygon points="352.4,115.86 354.68,115.86 354.68,118.14 352.4,118.14" fill="#fff" stroke="#222" stroke-width="0.62"/>
<polygon points="361.62,118.86 363.9,118.86 363.9,121.14 361.62,121.14" fill="#fff" stroke="#222" stroke-width="0.62"/>
<polygon points="370.84,122.06 373.12,122.06 373.12,124.34 370.84,124.34" fill="#fff" stroke="#222" stroke-width="0.62"/>
<polygon points="380.06,124.96 382.34,124.96 382.34,127.24 380.06,127.24" fill="#fff" stroke="#222" stroke-width="0.62"/>
<polygon points="389.28,127.76 391.56,127.76 391.56,130.04 389.28,130.04" fill="#fff" stroke="#222" stroke-width="0.62"/>
<polygon points="398.5,130.26 400.78,130.26 400.78,132.54 398.5,132.54" fill="#fff" stroke="#222" stroke-width="0.62"/>
<polygon points="293.5,35.8 296.5,35.8 295,38.12" fill="#fff" stroke="#222" stroke-width="0.62"/>
<polygon points="302.72,39.7 305.72,39.7 304.22,42.02" fill="#fff" stroke="#222" stroke-width="0.62"/>
<polygon points="311.94,49.5 314.94,49.5 313.44,51.82" fill="#fff" stroke="#222" stroke-width="0.62"/>
<polygon points="321.16,78 324.16,78 322.66,80.33" fill="#fff" stroke="#222" stroke-width="0.62"/>
<polygon points="330.38,104.7 333.38,104.7 331.88,107.02" fill="#fff" stroke="#222" stroke-width="0.62"/>
<polygon points="339.6,110.1 342.6,110.1 341.1,112.42" fill="#fff" stroke="#222" stroke-width="0.62"/>
<polygon points="348.82,114.1 351.82,114.1 350.32,116.42" fill="#fff" stroke="#222" stroke-width="0.62"/>
<polygon points="358.04,118.6 361.04,118.6 359.54,120.92" fill="#fff" stroke="#222" stroke-width="0.62"/>
<polygon points="367.26,123.1 370.26,123.1 368.76,125.42" fill="#fff" stroke="#222" stroke-width="0.62"/>
<polygon points="376.48,127.7 379.48,127.7 377.98,130.03" fill="#fff" stroke="#222" stroke-width="0.62"/>
<polygon points="385.7,132.4 388.7,132.4 387.2,134.73" fill="#fff" stroke="#222" stroke-width="0.62"/>
<polygon points="394.92,137.1 397.92,137.1 396.42,139.43" fill="#fff" stroke="#222" stroke-width="0.62"/>
<polygon points="404.14,141.6 407.14,141.6 405.64,143.93" fill="#fff" stroke="#222" stroke-width="0.62"/>
<polygon points="301.3,35.08 302.35,36.7 301.3,38.32 300.25,36.7" fill="#fff" stroke="#222" stroke-width="0.62"/>
<polygon points="310.52,38.98 311.57,40.6 310.52,42.22 309.47,40.6" fill="#fff" stroke="#222" stroke-width="0.62"/>
<polygon points="319.74,48.78 320.79,50.4 319.74,52.02 318.69,50.4" fill="#fff" stroke="#222" stroke-width="0.62"/>
<polygon points="328.96,77.28 330.01,78.9 328.96,80.52 327.91,78.9" fill="#fff" stroke="#222" stroke-width="0.62"/>
<polygon points="338.18,106.38 339.23,108 338.18,109.62 337.13,108" fill="#fff" stroke="#222" stroke-width="0.62"/>
<polygon points="347.4,121.88 348.45,123.5 347.4,125.12 346.35,123.5" fill="#fff" stroke="#222" stroke-width="0.62"/>
<polygon points="356.62,140.88 357.67,142.5 356.62,144.12 355.57,142.5" fill="#fff" stroke="#222" stroke-width="0.62"/>
<polygon points="365.84,157.38 366.89,159 365.84,160.62 364.79,159" fill="#fff" stroke="#222" stroke-width="0.62"/>
<polygon points="375.06,170.98 376.11,172.6 375.06,174.22 374.01,172.6" fill="#fff" stroke="#222" stroke-width="0.62"/>
<polygon points="384.28,177.38 385.33,179 384.28,180.62 383.23,179" fill="#fff" stroke="#222" stroke-width="0.62"/>
<polygon points="393.5,178.88 394.55,180.5 393.5,182.12 392.45,180.5" fill="#fff" stroke="#222" stroke-width="0.62"/>
<polygon points="402.72,179.68 403.77,181.3 402.72,182.92 401.67,181.3" fill="#fff" stroke="#222" stroke-width="0.62"/>
<polygon points="411.94,179.88 412.99,181.5 411.94,183.12 410.89,181.5" fill="#fff" stroke="#222" stroke-width="0.62"/>
<polygon points="306.2,37.3 309.2,37.3 307.7,34.98" fill="#fff" stroke="#222" stroke-width="0.62"/>
<polygon points="315.42,41.4 318.42,41.4 316.92,39.08" fill="#fff" stroke="#222" stroke-width="0.62"/>
<polygon points="324.64,51.4 327.64,51.4 326.14,49.08" fill="#fff" stroke="#222" stroke-width="0.62"/>
<polygon points="333.86,81.9 336.86,81.9 335.36,79.58" fill="#fff" stroke="#222" stroke-width="0.62"/>
<polygon points="343.08,139.9 346.08,139.9 344.58,137.57" fill="#fff" stroke="#222" stroke-width="0.62"/>
<polygon points="352.3,172.4 355.3,172.4 353.8,170.07" fill="#fff" stroke="#222" stroke-width="0.62"/>
<polygon points="361.52,180.06 364.52,180.06 363.02,177.73" fill="#fff" stroke="#222" stroke-width="0.62"/>
<polygon points="370.74,180.92 373.74,180.92 372.24,178.6" fill="#fff" stroke="#222" stroke-width="0.62"/>
<polygon points="379.96,181.83 382.96,181.83 381.46,179.51" fill="#fff" stroke="#222" stroke-width="0.62"/>
<polygon points="389.18,182.4 392.18,182.4 390.68,180.08" fill="#fff" stroke="#222" stroke-width="0.62"/>
<polygon points="398.4,182.42 401.4,182.42 399.9,180.09" fill="#fff" stroke="#222" stroke-width="0.62"/>
<polygon points="407.62,182.44 410.62,182.44 409.12,180.11" fill="#fff" stroke="#222" stroke-width="0.62"/>
<polygon points="416.84,182.46 419.84,182.46 418.34,180.13" fill="#fff" stroke="#222" stroke-width="0.62"/>
<polygon points="315.5,34.9 315.5,37.9 313.18,36.4" fill="#fff" stroke="#222" stroke-width="0.62"/>
<polygon points="324.72,39.1 324.72,42.1 322.4,40.6" fill="#fff" stroke="#222" stroke-width="0.62"/>
<polygon points="333.94,49 333.94,52 331.62,50.5" fill="#fff" stroke="#222" stroke-width="0.62"/>
<polygon points="343.16,81.1 343.16,84.1 340.84,82.6" fill="#fff" stroke="#222" stroke-width="0.62"/>
<polygon points="352.38,151.6 352.38,154.6 350.06,153.1" fill="#fff" stroke="#222" stroke-width="0.62"/>
<polygon points="361.6,177.49 361.6,180.49 359.28,178.99" fill="#fff" stroke="#222" stroke-width="0.62"/>
<polygon points="370.82,178.29 370.82,181.29 368.5,179.79" fill="#fff" stroke="#222" stroke-width="0.62"/>
<polygon points="380.04,179.21 380.04,182.21 377.72,180.71" fill="#fff" stroke="#222" stroke-width="0.62"/>
<polygon points="389.26,179.89 389.26,182.89 386.94,181.39" fill="#fff" stroke="#222" stroke-width="0.62"/>
<polygon points="398.48,180.02 398.48,183.02 396.16,181.52" fill="#fff" stroke="#222" stroke-width="0.62"/>
<polygon points="407.7,180.03 407.7,183.03 405.38,181.53" fill="#fff" stroke="#222" stroke-width="0.62"/>
<polygon points="416.92,180.05 416.92,183.05 414.6,181.55" fill="#fff" stroke="#222" stroke-width="0.62"/>
<polygon points="426.14,180.07 426.14,183.07 423.81,181.57" fill="#fff" stroke="#222" stroke-width="0.62"/>
<polygon points="318.1,34.66 318.56,35.77 319.75,35.86 318.84,36.64 319.12,37.81 318.1,37.18 317.08,37.81 317.36,36.64 316.45,35.86 317.64,35.77" fill="#fff" stroke="#222" stroke-width="0.62"/>
<polygon points="327.32,38.86 327.78,39.97 328.97,40.06 328.06,40.84 328.34,42.01 327.32,41.38 326.3,42.01 326.58,40.84 325.67,40.06 326.86,39.97" fill="#fff" stroke="#222" stroke-width="0.62"/>
<polygon points="336.54,48.76 337,49.87 338.19,49.96 337.28,50.74 337.56,51.91 336.54,51.28 335.52,51.91 335.8,50.74 334.89,49.96 336.08,49.87" fill="#fff" stroke="#222" stroke-width="0.62"/>
<polygon points="345.76,80.86 346.22,81.97 347.41,82.06 346.5,82.84 346.78,84.01 345.76,83.38 344.74,84.01 345.02,82.84 344.11,82.06 345.3,81.97" fill="#fff" stroke="#222" stroke-width="0.62"/>
<polygon points="354.98,153.96 355.44,155.07 356.63,155.16 355.72,155.94 356,157.11 354.98,156.48 353.96,157.11 354.24,155.94 353.33,155.16 354.52,155.07" fill="#fff" stroke="#222" stroke-width="0.62"/>
<polygon points="364.2,177.5 364.66,178.61 365.85,178.71 364.94,179.48 365.22,180.65 364.2,180.03 363.18,180.65 363.46,179.48 362.55,178.71 363.74,178.61" fill="#fff" stroke="#222" stroke-width="0.62"/>
<polygon points="373.42,178.4 373.88,179.51 375.07,179.6 374.16,180.38 374.44,181.55 373.42,180.92 372.4,181.55 372.68,180.38 371.77,179.6 372.96,179.51" fill="#fff" stroke="#222" stroke-width="0.62"/>
<polygon points="382.64,179.27 383.1,180.38 384.29,180.47 383.38,181.25 383.66,182.42 382.64,181.79 381.62,182.42 381.9,181.25 380.99,180.47 382.18,180.38" fill="#fff" stroke="#222" stroke-width="0.62"/>
<polygon points="391.86,179.76 392.32,180.87 393.51,180.97 392.6,181.75 392.88,182.91 391.86,182.29 390.84,182.91 391.12,181.75 390.21,180.97 391.4,180.87" fill="#fff" stroke="#222" stroke-width="0.62"/>
<polygon points="401.08,179.78 401.54,180.89 402.73,180.98 401.82,181.76 402.1,182.93 401.08,182.31 400.06,182.93 400.34,181.76 399.43,180.98 400.62,180.89" fill="#fff" stroke="#222" stroke-width="0.62"/>
<polygon points="410.3,179.8 410.76,180.91 411.95,181 411.04,181.78 411.32,182.95 410.3,182.32 409.28,182.95 409.56,181.78 408.65,181 409.84,180.91" fill="#fff" stroke="#222" stroke-width="0.62"/>
<polygon points="419.52,179.82 419.98,180.93 421.17,181.02 420.26,181.8 420.54,182.97 419.52,182.34 418.5,182.97 418.78,181.8 417.87,181.02 419.06,180.93" fill="#fff" stroke="#222" stroke-width="0.62"/>
<polygon points="428.74,179.84 429.2,180.94 430.39,181.04 429.48,181.82 429.76,182.99 428.74,182.36 427.72,182.99 428,181.82 427.09,181.04 428.28,180.94" fill="#fff" stroke="#222" stroke-width="0.62"/>
<g font-size="7" fill="#111" stroke="#111" stroke-width="0.1"><path d="M271.7 225.35h3.9" stroke="#555" stroke-width="0.45"/><text x="276.1" y="227.1" textLength="7.2" lengthAdjust="spacingAndGlyphs">6.1</text><path d="M294.84 225.35h3.9" stroke="#555" stroke-width="0.45"/><text x="299.24" y="227.1" textLength="7.2" lengthAdjust="spacingAndGlyphs">5.6</text><path d="M317.99 225.35h3.9" stroke="#555" stroke-width="0.45"/><text x="322.39" y="227.1" textLength="7.2" lengthAdjust="spacingAndGlyphs">5.1</text><path d="M341.13 225.35h3.9" stroke="#555" stroke-width="0.45"/><text x="345.53" y="227.1" textLength="7.2" lengthAdjust="spacingAndGlyphs">4.6</text><path d="M364.27 225.35h3.9" stroke="#555" stroke-width="0.45"/><text x="368.67" y="227.1" textLength="7.2" lengthAdjust="spacingAndGlyphs">4.1</text><path d="M387.41 225.35h3.9" stroke="#555" stroke-width="0.45"/><text x="391.81" y="227.1" textLength="7.2" lengthAdjust="spacingAndGlyphs">3.6</text><path d="M410.56 225.35h3.9" stroke="#555" stroke-width="0.45"/><text x="414.96" y="227.1" textLength="7.2" lengthAdjust="spacingAndGlyphs">3.1</text><path d="M433.7 225.35h3.9" stroke="#555" stroke-width="0.45"/><text x="438.1" y="227.1" textLength="7.2" lengthAdjust="spacingAndGlyphs">2.6</text><text x="271.8" y="7.9" text-anchor="end" textLength="5.6" lengthAdjust="spacingAndGlyphs">10</text><text x="271.9" y="5.5" font-size="5.46">0</text><text x="268.1" y="50.52" text-anchor="end" textLength="5.6" lengthAdjust="spacingAndGlyphs">10</text><path d="M268.3 46.87h2.8" stroke="#555" stroke-width="0.4"/><text x="271.3" y="48.32" font-size="5.04">1</text><text x="268.1" y="93.24" text-anchor="end" textLength="5.6" lengthAdjust="spacingAndGlyphs">10</text><path d="M268.3 89.59h2.8" stroke="#555" stroke-width="0.4"/><text x="271.3" y="91.04" font-size="5.04">2</text><text x="268.1" y="135.96" text-anchor="end" textLength="5.6" lengthAdjust="spacingAndGlyphs">10</text><path d="M268.3 132.31h2.8" stroke="#555" stroke-width="0.4"/><text x="271.3" y="133.76" font-size="5.04">3</text><text x="268.1" y="178.68" text-anchor="end" textLength="5.6" lengthAdjust="spacingAndGlyphs">10</text><path d="M268.3 175.03h2.8" stroke="#555" stroke-width="0.4"/><text x="271.3" y="176.48" font-size="5.04">4</text><text x="268.1" y="221.4" text-anchor="end" textLength="5.6" lengthAdjust="spacingAndGlyphs">10</text><path d="M268.3 217.75h2.8" stroke="#555" stroke-width="0.4"/><text x="271.3" y="219.2" font-size="5.04">5</text></g>
<text x="358.5" y="235.7" text-anchor="middle" font-size="6.5" fill="#111">Gap to separation limit</text>
<text transform="translate(258.3 111.6) rotate(-90)" text-anchor="middle" font-size="6.5" fill="#3a3a3a" stroke="#111" stroke-width="0.0">End-to-end bit error rate (BER)</text>
<path d="M277 248.5h10.7" stroke="#222" stroke-width="0.75" fill="none"/>
<circle cx="282.35" cy="248.5" r="1.2" fill="#fff" stroke="#222" stroke-width="0.6"/>
<text x="291.9" y="250.65" font-size="6.5" fill="#111">No BCH</text>
<path d="M277 256.6h10.7" stroke="#222" stroke-width="0.75" fill="none"/>
<polygon points="281.21,255.46 283.49,255.46 283.49,257.74 281.21,257.74" fill="#fff" stroke="#222" stroke-width="0.6"/>
<text x="291.9" y="258.75" font-size="6.5" fill="#111" textLength="16.4" lengthAdjust="spacing"><tspan font-style="italic">t</tspan> = 40</text>
<path d="M277 264.7h10.7" stroke="#222" stroke-width="0.75" fill="none"/>
<polygon points="280.85,263.8 283.85,263.8 282.35,266.12" fill="#fff" stroke="#222" stroke-width="0.6"/>
<text x="291.9" y="266.84" font-size="6.5" fill="#111" textLength="16.4" lengthAdjust="spacing"><tspan font-style="italic">t</tspan> = 60</text>
<path d="M277 273.4h10.7" stroke="#222" stroke-width="0.75" fill="none"/>
<polygon points="282.35,271.78 283.4,273.4 282.35,275.02 281.3,273.4" fill="#fff" stroke="#222" stroke-width="0.6"/>
<text x="291.9" y="275.54" font-size="6.5" fill="#111" textLength="16.4" lengthAdjust="spacing"><tspan font-style="italic">t</tspan> = 80</text>
<path d="M373 248.5h10.7" stroke="#222" stroke-width="0.75" fill="none"/>
<polygon points="376.85,249.4 379.85,249.4 378.35,247.07" fill="#fff" stroke="#222" stroke-width="0.6"/>
<text x="387.9" y="250.65" font-size="6.5" fill="#111" textLength="19.4" lengthAdjust="spacing"><tspan font-style="italic">t</tspan> = 100</text>
<path d="M373 256.6h10.7" stroke="#222" stroke-width="0.75" fill="none"/>
<polygon points="379.25,255.1 379.25,258.1 376.93,256.6" fill="#fff" stroke="#222" stroke-width="0.6"/>
<text x="387.9" y="258.75" font-size="6.5" fill="#111" textLength="19.4" lengthAdjust="spacing"><tspan font-style="italic">t</tspan> = 120</text>
<path d="M373 264.7h10.7" stroke="#222" stroke-width="0.75" fill="none"/>
<polygon points="378.35,262.96 378.81,264.07 380,264.16 379.09,264.94 379.37,266.11 378.35,265.48 377.33,266.11 377.61,264.94 376.7,264.16 377.89,264.07" fill="#fff" stroke="#222" stroke-width="0.6"/>
<text x="387.9" y="266.84" font-size="6.5" fill="#111" textLength="19.4" lengthAdjust="spacing"><tspan font-style="italic">t</tspan> = 133</text>
<path d="M373 273.4h10.7" stroke="#444" stroke-width="0.75" stroke-dasharray="2.3 1.8" fill="none"/>
<text x="387.9" y="275.54" font-size="6.5" fill="#111">Lower bound</text>
<path d="M515.8 36.75h1.55M683.2 36.75h-1.55M515.8 29.01h1.55M683.2 29.01h-1.55M515.8 23.51h1.55M683.2 23.51h-1.55M515.8 19.25h1.55M683.2 19.25h-1.55M515.8 15.76h1.55M683.2 15.76h-1.55M515.8 12.82h1.55M683.2 12.82h-1.55M515.8 10.26h1.55M683.2 10.26h-1.55M515.8 8.01h1.55M683.2 8.01h-1.55M515.8 80.75h1.55M683.2 80.75h-1.55M515.8 73.01h1.55M683.2 73.01h-1.55M515.8 67.51h1.55M683.2 67.51h-1.55M515.8 63.25h1.55M683.2 63.25h-1.55M515.8 59.76h1.55M683.2 59.76h-1.55M515.8 56.82h1.55M683.2 56.82h-1.55M515.8 54.26h1.55M683.2 54.26h-1.55M515.8 52.01h1.55M683.2 52.01h-1.55M515.8 124.75h1.55M683.2 124.75h-1.55M515.8 117.01h1.55M683.2 117.01h-1.55M515.8 111.51h1.55M683.2 111.51h-1.55M515.8 107.25h1.55M683.2 107.25h-1.55M515.8 103.76h1.55M683.2 103.76h-1.55M515.8 100.82h1.55M683.2 100.82h-1.55M515.8 98.26h1.55M683.2 98.26h-1.55M515.8 96.01h1.55M683.2 96.01h-1.55M515.8 168.75h1.55M683.2 168.75h-1.55M515.8 161.01h1.55M683.2 161.01h-1.55M515.8 155.51h1.55M683.2 155.51h-1.55M515.8 151.25h1.55M683.2 151.25h-1.55M515.8 147.76h1.55M683.2 147.76h-1.55M515.8 144.82h1.55M683.2 144.82h-1.55M515.8 142.26h1.55M683.2 142.26h-1.55M515.8 140.01h1.55M683.2 140.01h-1.55M515.8 212.75h1.55M683.2 212.75h-1.55M515.8 205.01h1.55M683.2 205.01h-1.55M515.8 199.51h1.55M683.2 199.51h-1.55M515.8 195.25h1.55M683.2 195.25h-1.55M515.8 191.76h1.55M683.2 191.76h-1.55M515.8 188.82h1.55M683.2 188.82h-1.55M515.8 186.26h1.55M683.2 186.26h-1.55M515.8 184.01h1.55M683.2 184.01h-1.55M515.8 50h2.48M683.2 50h-2.48M515.8 94h2.48M683.2 94h-2.48M515.8 138h2.48M683.2 138h-2.48M515.8 182h2.48M683.2 182h-2.48M537.26 226v-2.48M537.26 6v2.48M558.72 226v-2.48M558.72 6v2.48M580.18 226v-2.48M580.18 6v2.48M601.65 226v-2.48M601.65 6v2.48M623.11 226v-2.48M623.11 6v2.48M644.57 226v-2.48M644.57 6v2.48M666.03 226v-2.48M666.03 6v2.48" stroke="#222" stroke-width="0.72" fill="none"/>
<rect x="515.8" y="6" width="167.4" height="220" fill="none" stroke="#444" stroke-width="0.78"/>
<path d="M515.8 187.3H683.2" stroke="#444" stroke-width="0.78" stroke-dasharray="2.38 1.86" fill="none"/>
<path d="M529.4 33.8 L538 34 L546.6 35 L555.2 37.7 L563.8 48.3 L572.4 79 L581 112.1 L589.6 133.3 L598.2 135.8 L606.8 138.5 L615.4 141 L624 143.3 L632.6 145.3 L641.2 147.4 L649.8 149.4" stroke="#222" stroke-width="0.78" fill="none"/>
<path d="M534.7 33.8 L543.3 34 L551.9 35 L560.5 37.7 L569.1 48.3 L577.7 79 L586.3 112.1 L594.9 133.3 L603.5 136.2 L612.1 138.8 L620.7 140.5 L629.3 143.3 L637.9 145.3 L646.5 147.6 L655.1 149.9" stroke="#222" stroke-width="0.78" fill="none"/>
<path d="M540.4 33.8 L549 34 L557.6 35 L566.2 37.7 L574.8 48.3 L583.4 79 L592 115.1 L600.6 143.7 L609.2 150.8 L617.8 154.5 L626.4 158.1 L635 161.3 L643.6 164.2 L652.2 167.8 L660.8 169.4" stroke="#222" stroke-width="0.78" fill="none"/>
<path d="M546.5 33.8 L555.1 34.2 L563.7 35.2 L572.3 37.7 L580.9 48.3 L589.5 79 L598.1 120.9 L606.7 184.84 L615.3 185.74 L623.9 186.79 L632.5 187.1 L641.1 187.12 L649.7 187.13 L658.3 187.15 L666.9 187.16" stroke="#222" stroke-width="0.78" fill="none"/>
<path d="M550.1 33.8 L558.7 34.2 L567.3 35.2 L575.9 37.7 L584.5 48.3 L593.1 79 L601.7 120.9 L610.3 185.51 L618.9 186.19 L627.5 186.93 L636.1 187.11 L644.7 187.12 L653.3 187.14 L661.9 187.15 L670.5 187.17" stroke="#222" stroke-width="0.78" fill="none"/>
<circle cx="529.4" cy="33.8" r="1.24" fill="#fff" stroke="#222" stroke-width="0.6416999999999999"/>
<circle cx="538" cy="34" r="1.24" fill="#fff" stroke="#222" stroke-width="0.6416999999999999"/>
<circle cx="546.6" cy="35" r="1.24" fill="#fff" stroke="#222" stroke-width="0.6416999999999999"/>
<circle cx="555.2" cy="37.7" r="1.24" fill="#fff" stroke="#222" stroke-width="0.6416999999999999"/>
<circle cx="563.8" cy="48.3" r="1.24" fill="#fff" stroke="#222" stroke-width="0.6416999999999999"/>
<circle cx="572.4" cy="79" r="1.24" fill="#fff" stroke="#222" stroke-width="0.6416999999999999"/>
<circle cx="581" cy="112.1" r="1.24" fill="#fff" stroke="#222" stroke-width="0.6416999999999999"/>
<circle cx="589.6" cy="133.3" r="1.24" fill="#fff" stroke="#222" stroke-width="0.6416999999999999"/>
<circle cx="598.2" cy="135.8" r="1.24" fill="#fff" stroke="#222" stroke-width="0.6416999999999999"/>
<circle cx="606.8" cy="138.5" r="1.24" fill="#fff" stroke="#222" stroke-width="0.6416999999999999"/>
<circle cx="615.4" cy="141" r="1.24" fill="#fff" stroke="#222" stroke-width="0.6416999999999999"/>
<circle cx="624" cy="143.3" r="1.24" fill="#fff" stroke="#222" stroke-width="0.6416999999999999"/>
<circle cx="632.6" cy="145.3" r="1.24" fill="#fff" stroke="#222" stroke-width="0.6416999999999999"/>
<circle cx="641.2" cy="147.4" r="1.24" fill="#fff" stroke="#222" stroke-width="0.6416999999999999"/>
<circle cx="649.8" cy="149.4" r="1.24" fill="#fff" stroke="#222" stroke-width="0.6416999999999999"/>
<polygon points="533.52,32.62 535.88,32.62 535.88,34.98 533.52,34.98" fill="#fff" stroke="#222" stroke-width="0.6416999999999999"/>
<polygon points="542.12,32.82 544.48,32.82 544.48,35.18 542.12,35.18" fill="#fff" stroke="#222" stroke-width="0.6416999999999999"/>
<polygon points="550.72,33.82 553.08,33.82 553.08,36.18 550.72,36.18" fill="#fff" stroke="#222" stroke-width="0.6416999999999999"/>
<polygon points="559.32,36.52 561.68,36.52 561.68,38.88 559.32,38.88" fill="#fff" stroke="#222" stroke-width="0.6416999999999999"/>
<polygon points="567.92,47.12 570.28,47.12 570.28,49.48 567.92,49.48" fill="#fff" stroke="#222" stroke-width="0.6416999999999999"/>
<polygon points="576.52,77.82 578.88,77.82 578.88,80.18 576.52,80.18" fill="#fff" stroke="#222" stroke-width="0.6416999999999999"/>
<polygon points="585.12,110.92 587.48,110.92 587.48,113.28 585.12,113.28" fill="#fff" stroke="#222" stroke-width="0.6416999999999999"/>
<polygon points="593.72,132.12 596.08,132.12 596.08,134.48 593.72,134.48" fill="#fff" stroke="#222" stroke-width="0.6416999999999999"/>
<polygon points="602.32,135.02 604.68,135.02 604.68,137.38 602.32,137.38" fill="#fff" stroke="#222" stroke-width="0.6416999999999999"/>
<polygon points="610.92,137.62 613.28,137.62 613.28,139.98 610.92,139.98" fill="#fff" stroke="#222" stroke-width="0.6416999999999999"/>
<polygon points="619.52,139.32 621.88,139.32 621.88,141.68 619.52,141.68" fill="#fff" stroke="#222" stroke-width="0.6416999999999999"/>
<polygon points="628.12,142.12 630.48,142.12 630.48,144.48 628.12,144.48" fill="#fff" stroke="#222" stroke-width="0.6416999999999999"/>
<polygon points="636.72,144.12 639.08,144.12 639.08,146.48 636.72,146.48" fill="#fff" stroke="#222" stroke-width="0.6416999999999999"/>
<polygon points="645.32,146.42 647.68,146.42 647.68,148.78 645.32,148.78" fill="#fff" stroke="#222" stroke-width="0.6416999999999999"/>
<polygon points="653.92,148.72 656.28,148.72 656.28,151.08 653.92,151.08" fill="#fff" stroke="#222" stroke-width="0.6416999999999999"/>
<polygon points="538.85,32.87 541.95,32.87 540.4,35.27" fill="#fff" stroke="#222" stroke-width="0.6416999999999999"/>
<polygon points="547.45,33.07 550.55,33.07 549,35.47" fill="#fff" stroke="#222" stroke-width="0.6416999999999999"/>
<polygon points="556.05,34.07 559.15,34.07 557.6,36.47" fill="#fff" stroke="#222" stroke-width="0.6416999999999999"/>
<polygon points="564.65,36.77 567.75,36.77 566.2,39.17" fill="#fff" stroke="#222" stroke-width="0.6416999999999999"/>
<polygon points="573.25,47.37 576.35,47.37 574.8,49.77" fill="#fff" stroke="#222" stroke-width="0.6416999999999999"/>
<polygon points="581.85,78.07 584.95,78.07 583.4,80.47" fill="#fff" stroke="#222" stroke-width="0.6416999999999999"/>
<polygon points="590.45,114.17 593.55,114.17 592,116.57" fill="#fff" stroke="#222" stroke-width="0.6416999999999999"/>
<polygon points="599.05,142.77 602.15,142.77 600.6,145.17" fill="#fff" stroke="#222" stroke-width="0.6416999999999999"/>
<polygon points="607.65,149.87 610.75,149.87 609.2,152.27" fill="#fff" stroke="#222" stroke-width="0.6416999999999999"/>
<polygon points="616.25,153.57 619.35,153.57 617.8,155.97" fill="#fff" stroke="#222" stroke-width="0.6416999999999999"/>
<polygon points="624.85,157.17 627.95,157.17 626.4,159.57" fill="#fff" stroke="#222" stroke-width="0.6416999999999999"/>
<polygon points="633.45,160.37 636.55,160.37 635,162.77" fill="#fff" stroke="#222" stroke-width="0.6416999999999999"/>
<polygon points="642.05,163.27 645.15,163.27 643.6,165.67" fill="#fff" stroke="#222" stroke-width="0.6416999999999999"/>
<polygon points="650.65,166.87 653.75,166.87 652.2,169.27" fill="#fff" stroke="#222" stroke-width="0.6416999999999999"/>
<polygon points="659.25,168.47 662.35,168.47 660.8,170.87" fill="#fff" stroke="#222" stroke-width="0.6416999999999999"/>
<polygon points="546.5,32.12 547.59,33.8 546.5,35.48 545.41,33.8" fill="#fff" stroke="#222" stroke-width="0.6416999999999999"/>
<polygon points="555.1,32.52 556.19,34.2 555.1,35.88 554.01,34.2" fill="#fff" stroke="#222" stroke-width="0.6416999999999999"/>
<polygon points="563.7,33.52 564.79,35.2 563.7,36.88 562.61,35.2" fill="#fff" stroke="#222" stroke-width="0.6416999999999999"/>
<polygon points="572.3,36.02 573.39,37.7 572.3,39.38 571.21,37.7" fill="#fff" stroke="#222" stroke-width="0.6416999999999999"/>
<polygon points="580.9,46.62 581.99,48.3 580.9,49.98 579.81,48.3" fill="#fff" stroke="#222" stroke-width="0.6416999999999999"/>
<polygon points="589.5,77.32 590.59,79 589.5,80.68 588.41,79" fill="#fff" stroke="#222" stroke-width="0.6416999999999999"/>
<polygon points="598.1,119.22 599.19,120.9 598.1,122.58 597.01,120.9" fill="#fff" stroke="#222" stroke-width="0.6416999999999999"/>
<polygon points="606.7,183.16 607.79,184.84 606.7,186.52 605.61,184.84" fill="#fff" stroke="#222" stroke-width="0.6416999999999999"/>
<polygon points="615.3,184.06 616.39,185.74 615.3,187.41 614.21,185.74" fill="#fff" stroke="#222" stroke-width="0.6416999999999999"/>
<polygon points="623.9,185.11 624.99,186.79 623.9,188.46 622.81,186.79" fill="#fff" stroke="#222" stroke-width="0.6416999999999999"/>
<polygon points="632.5,185.42 633.59,187.1 632.5,188.78 631.41,187.1" fill="#fff" stroke="#222" stroke-width="0.6416999999999999"/>
<polygon points="641.1,185.44 642.19,187.12 641.1,188.79 640.01,187.12" fill="#fff" stroke="#222" stroke-width="0.6416999999999999"/>
<polygon points="649.7,185.45 650.79,187.13 649.7,188.81 648.61,187.13" fill="#fff" stroke="#222" stroke-width="0.6416999999999999"/>
<polygon points="658.3,185.47 659.39,187.15 658.3,188.82 657.21,187.15" fill="#fff" stroke="#222" stroke-width="0.6416999999999999"/>
<polygon points="666.9,185.48 667.99,187.16 666.9,188.84 665.81,187.16" fill="#fff" stroke="#222" stroke-width="0.6416999999999999"/>
<polygon points="548.55,34.73 551.65,34.73 550.1,32.33" fill="#fff" stroke="#222" stroke-width="0.6416999999999999"/>
<polygon points="557.15,35.13 560.25,35.13 558.7,32.73" fill="#fff" stroke="#222" stroke-width="0.6416999999999999"/>
<polygon points="565.75,36.13 568.85,36.13 567.3,33.73" fill="#fff" stroke="#222" stroke-width="0.6416999999999999"/>
<polygon points="574.35,38.63 577.45,38.63 575.9,36.23" fill="#fff" stroke="#222" stroke-width="0.6416999999999999"/>
<polygon points="582.95,49.23 586.05,49.23 584.5,46.83" fill="#fff" stroke="#222" stroke-width="0.6416999999999999"/>
<polygon points="591.55,79.93 594.65,79.93 593.1,77.53" fill="#fff" stroke="#222" stroke-width="0.6416999999999999"/>
<polygon points="600.15,121.83 603.25,121.83 601.7,119.43" fill="#fff" stroke="#222" stroke-width="0.6416999999999999"/>
<polygon points="608.75,186.44 611.85,186.44 610.3,184.04" fill="#fff" stroke="#222" stroke-width="0.6416999999999999"/>
<polygon points="617.35,187.12 620.45,187.12 618.9,184.71" fill="#fff" stroke="#222" stroke-width="0.6416999999999999"/>
<polygon points="625.95,187.86 629.05,187.86 627.5,185.46" fill="#fff" stroke="#222" stroke-width="0.6416999999999999"/>
<polygon points="634.55,188.04 637.65,188.04 636.1,185.63" fill="#fff" stroke="#222" stroke-width="0.6416999999999999"/>
<polygon points="643.15,188.05 646.25,188.05 644.7,185.65" fill="#fff" stroke="#222" stroke-width="0.6416999999999999"/>
<polygon points="651.75,188.07 654.85,188.07 653.3,185.66" fill="#fff" stroke="#222" stroke-width="0.6416999999999999"/>
<polygon points="660.35,188.08 663.45,188.08 661.9,185.68" fill="#fff" stroke="#222" stroke-width="0.6416999999999999"/>
<polygon points="668.95,188.1 672.05,188.1 670.5,185.69" fill="#fff" stroke="#222" stroke-width="0.6416999999999999"/>
<g font-size="7.25" fill="#111" stroke="#111" stroke-width="0.1"><path d="M509.8 231.99h4.04" stroke="#555" stroke-width="0.47"/><text x="514.35" y="233.8" textLength="7.45" lengthAdjust="spacingAndGlyphs">6.1</text><path d="M531.26 231.99h4.04" stroke="#555" stroke-width="0.47"/><text x="535.81" y="233.8" textLength="7.45" lengthAdjust="spacingAndGlyphs">5.6</text><path d="M552.72 231.99h4.04" stroke="#555" stroke-width="0.47"/><text x="557.27" y="233.8" textLength="7.45" lengthAdjust="spacingAndGlyphs">5.1</text><path d="M574.18 231.99h4.04" stroke="#555" stroke-width="0.47"/><text x="578.74" y="233.8" textLength="7.45" lengthAdjust="spacingAndGlyphs">4.6</text><path d="M595.64 231.99h4.04" stroke="#555" stroke-width="0.47"/><text x="600.2" y="233.8" textLength="7.45" lengthAdjust="spacingAndGlyphs">4.1</text><path d="M617.1 231.99h4.04" stroke="#555" stroke-width="0.47"/><text x="621.66" y="233.8" textLength="7.45" lengthAdjust="spacingAndGlyphs">3.6</text><path d="M638.57 231.99h4.04" stroke="#555" stroke-width="0.47"/><text x="643.12" y="233.8" textLength="7.45" lengthAdjust="spacingAndGlyphs">3.1</text><path d="M660.03 231.99h4.04" stroke="#555" stroke-width="0.47"/><text x="664.58" y="233.8" textLength="7.45" lengthAdjust="spacingAndGlyphs">2.6</text><text x="509.93" y="8.07" text-anchor="end" textLength="5.8" lengthAdjust="spacingAndGlyphs">10</text><text x="510.03" y="5.59" font-size="5.66">0</text><text x="506.1" y="51.97" text-anchor="end" textLength="5.8" lengthAdjust="spacingAndGlyphs">10</text><path d="M506.3 48.19h2.9" stroke="#555" stroke-width="0.41"/><text x="509.41" y="49.69" font-size="5.22">1</text><text x="506.1" y="95.97" text-anchor="end" textLength="5.8" lengthAdjust="spacingAndGlyphs">10</text><path d="M506.3 92.19h2.9" stroke="#555" stroke-width="0.41"/><text x="509.41" y="93.69" font-size="5.22">2</text><text x="506.1" y="139.97" text-anchor="end" textLength="5.8" lengthAdjust="spacingAndGlyphs">10</text><path d="M506.3 136.19h2.9" stroke="#555" stroke-width="0.41"/><text x="509.41" y="137.69" font-size="5.22">3</text><text x="506.1" y="183.97" text-anchor="end" textLength="5.8" lengthAdjust="spacingAndGlyphs">10</text><path d="M506.3 180.19h2.9" stroke="#555" stroke-width="0.41"/><text x="509.41" y="181.69" font-size="5.22">4</text><text x="506.1" y="227.97" text-anchor="end" textLength="5.8" lengthAdjust="spacingAndGlyphs">10</text><path d="M506.3 224.19h2.9" stroke="#555" stroke-width="0.41"/><text x="509.41" y="225.69" font-size="5.22">5</text></g>
<text x="599.5" y="242.9" text-anchor="middle" font-size="6.75" fill="#111">Gap to separation limit</text>
<text transform="translate(496.3 115.4) rotate(-90)" text-anchor="middle" font-size="6.75" fill="#3a3a3a" stroke="#111" stroke-width="0.0">End-to-end bit error rate (BER)</text>
<path d="M515.7 256.5h11" stroke="#222" stroke-width="0.78" fill="none"/>
<circle cx="521.2" cy="256.5" r="1.24" fill="#fff" stroke="#222" stroke-width="0.6209999999999999"/>
<text x="531.3" y="258.73" font-size="6.75" fill="#111">No BCH</text>
<path d="M515.7 264.6h11" stroke="#222" stroke-width="0.78" fill="none"/>
<polygon points="520.02,263.42 522.38,263.42 522.38,265.78 520.02,265.78" fill="#fff" stroke="#222" stroke-width="0.6209999999999999"/>
<text x="531.3" y="266.83" font-size="6.75" fill="#111" textLength="16.97" lengthAdjust="spacing"><tspan font-style="italic">t</tspan> = 40</text>
<path d="M515.7 272.6h11" stroke="#222" stroke-width="0.78" fill="none"/>
<polygon points="519.65,271.67 522.75,271.67 521.2,274.07" fill="#fff" stroke="#222" stroke-width="0.6209999999999999"/>
<text x="531.3" y="274.83" font-size="6.75" fill="#111" textLength="16.97" lengthAdjust="spacing"><tspan font-style="italic">t</tspan> = 60</text>
<path d="M614.7 256.5h11" stroke="#222" stroke-width="0.78" fill="none"/>
<polygon points="620.2,254.82 621.29,256.5 620.2,258.18 619.11,256.5" fill="#fff" stroke="#222" stroke-width="0.6209999999999999"/>
<text x="630.3" y="258.73" font-size="6.75" fill="#111" textLength="16.97" lengthAdjust="spacing"><tspan font-style="italic">t</tspan> = 80</text>
<path d="M614.7 264.6h11" stroke="#222" stroke-width="0.78" fill="none"/>
<polygon points="618.65,265.53 621.75,265.53 620.2,263.13" fill="#fff" stroke="#222" stroke-width="0.6209999999999999"/>
<text x="630.3" y="266.83" font-size="6.75" fill="#111" textLength="16.97" lengthAdjust="spacing"><tspan font-style="italic">t</tspan> = 92</text>
<path d="M614.7 272.6h11" stroke="#444" stroke-width="0.78" stroke-dasharray="2.38 1.86" fill="none"/>
<text x="630.3" y="274.83" font-size="6.75" fill="#111">Lower bound</text>
</svg>
</body></html>
